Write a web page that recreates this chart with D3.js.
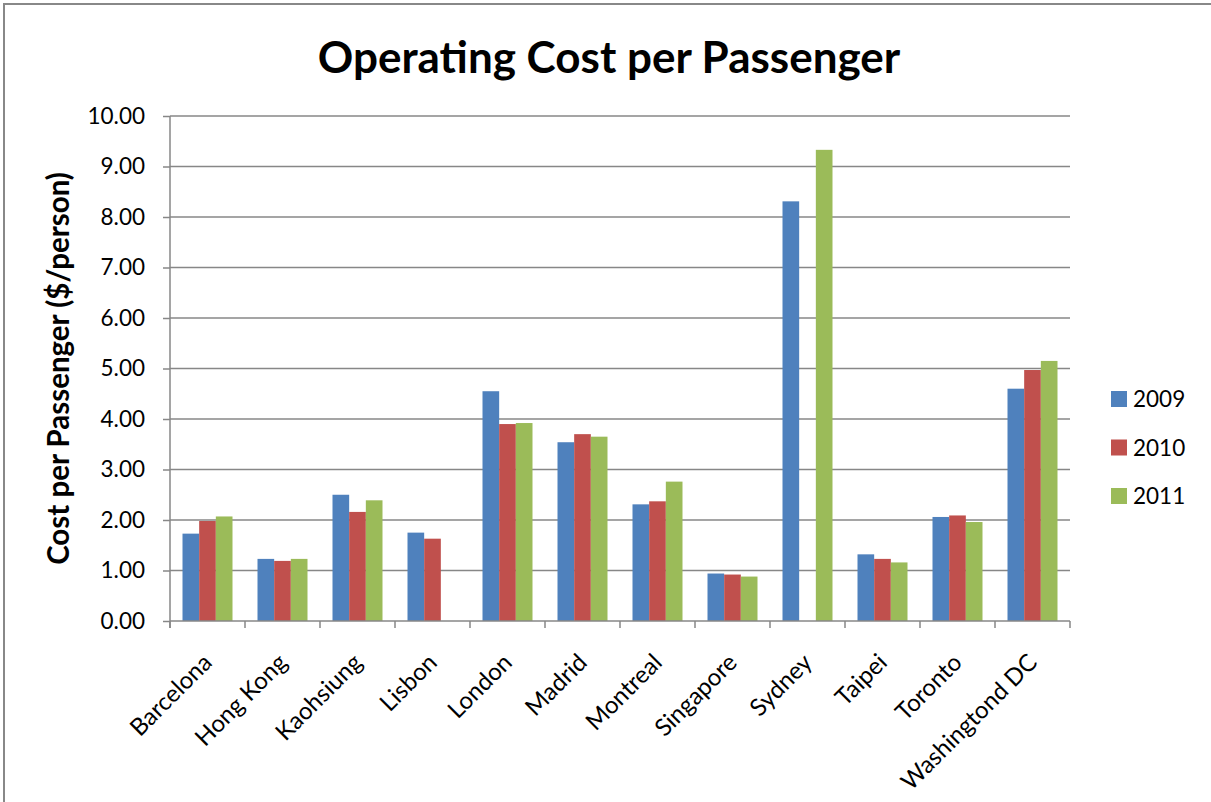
<!DOCTYPE html>
<html>
<head>
<meta charset="utf-8">
<script src="https://cdn.jsdelivr.net/npm/d3@7"></script>
<style>
  html, body { margin: 0; padding: 0; background: #fff; }
  svg { display: block; font-family: Lato, "Open Sans", sans-serif; }
</style>
</head>
<body>
<div id="chart"></div>
<script>
// Données
const cities = ['Barcelona', 'Hong Kong', 'Kaohsiung', 'Lisbon', 'London', 'Madrid',
                'Montreal', 'Singapore', 'Sydney', 'Taipei', 'Toronto', 'Washingtond DC'];
const years = ['2009', '2010', '2011'];
const cost2009 = [1.73, 1.23, 2.50, 1.75, 4.55, 3.54, 2.31, 0.94, 8.31, 1.32, 2.06, 4.60];
const cost2010 = [1.98, 1.19, 2.16, 1.63, 3.90, 3.70, 2.37, 0.92, null, 1.23, 2.09, 4.97];
const cost2011 = [2.07, 1.23, 2.39, null, 3.92, 3.65, 2.76, 0.88, 9.33, 1.16, 1.96, 5.15];
const yTicks = [0, 1, 2, 3, 4, 5, 6, 7, 8, 9, 10];
const colors = ['#4F81BD', '#C0504D', '#9BBB59'];

const width = 1211, height = 802;
const plot = { left: 170, right: 1070, top: 116, bottom: 621 };
const gridColor = '#878787';

const svg = d3.select('#chart').append('svg')
    .attr('width', width)
    .attr('height', height);

// Cadre du graphique
svg.append('rect')
    .attr('x', 4).attr('y', 4)
    .attr('width', 1230).attr('height', 830)
    .attr('fill', 'none')
    .attr('stroke', '#888')
    .attr('stroke-width', 2);

const x = d3.scaleBand()
    .domain(cities)
    .range([plot.left, plot.right]);

const xYear = d3.scaleBand()
    .domain(years)
    .range([0, x.bandwidth()])
    .paddingOuter(0.75);

const y = d3.scaleLinear()
    .domain([0, 10])
    .range([plot.bottom, plot.top]);

// Grille horizontale
svg.append('g')
    .selectAll('line')
    .data(yTicks.slice(1))
    .enter().append('line')
    .attr('x1', plot.left).attr('x2', plot.right)
    .attr('y1', d => y(d)).attr('y2', d => y(d))
    .attr('stroke', gridColor)
    .attr('stroke-width', 1.5);

// Barres
const series = [cost2009, cost2010, cost2011];
const rows = [];
series.forEach((values, s) => {
    values.forEach((v, i) => {
        if (v != null) rows.push({ city: cities[i], year: years[s], value: v, s });
    });
});

svg.append('g')
    .selectAll('rect')
    .data(rows)
    .enter().append('rect')
    .attr('x', d => x(d.city) + xYear(d.year))
    .attr('width', xYear.bandwidth())
    .attr('y', d => y(d.value))
    .attr('height', d => y(0) - y(d.value))
    .attr('fill', d => colors[d.s]);

// Axe Y
const yAxis = svg.append('g')
    .attr('transform', `translate(${plot.left},0)`)
    .call(d3.axisLeft(y).tickValues(yTicks).tickFormat(d3.format('.2f')).tickSize(7).tickPadding(18));
yAxis.select('.domain').remove();
yAxis.append('line')
    .attr('x1', 0).attr('x2', 0)
    .attr('y1', plot.top).attr('y2', plot.bottom + 7)
    .attr('stroke', gridColor).attr('stroke-width', 1.5);
yAxis.selectAll('.tick line').attr('stroke', gridColor).attr('stroke-width', 1.5);
yAxis.selectAll('.tick text')
    .attr('font-size', 22.5)
    .attr('font-family', 'Lato')
    .attr('fill', '#000');

// Axe X
const xAxis = svg.append('g')
    .attr('transform', `translate(0,${plot.bottom})`);
xAxis.append('line')
    .attr('x1', plot.left).attr('x2', plot.right)
    .attr('stroke', gridColor).attr('stroke-width', 1.5);
xAxis.selectAll('.xtick')
    .data(cities.concat(['end']))
    .enter().append('line')
    .attr('class', 'xtick')
    .attr('x1', (d, i) => i < cities.length ? x(d) : plot.right)
    .attr('x2', (d, i) => i < cities.length ? x(d) : plot.right)
    .attr('y1', 0).attr('y2', 7)
    .attr('stroke', gridColor).attr('stroke-width', 1.5);

xAxis.selectAll('.xlabel')
    .data(cities)
    .enter().append('text')
    .attr('class', 'xlabel')
    .attr('transform', d => `translate(${x(d) + x.bandwidth() / 2 + 6},${43}) rotate(-45)`)
    .attr('text-anchor', 'end')
    .attr('font-size', 24)
    .attr('fill', '#000')
    .text(d => d);

// Titres
svg.append('text')
    .attr('x', 609).attr('y', 73)
    .attr('text-anchor', 'middle')
    .attr('font-size', 44)
    .attr('font-weight', 'bold')
    .text('Operating Cost per Passenger');

svg.append('text')
    .attr('transform', `translate(69,${(plot.top + plot.bottom) / 2}) rotate(-90)`)
    .attr('text-anchor', 'middle')
    .attr('font-size', 29.5)
    .attr('font-weight', 'bold')
    .text('Cost per Passenger ($/person)');

// Légende
const legend = svg.append('g')
    .selectAll('g')
    .data(years)
    .enter().append('g')
    .attr('transform', (d, i) => `translate(1111,${391 + i * 48.5})`);

legend.append('rect')
    .attr('width', 16).attr('height', 16)
    .attr('fill', (d, i) => colors[i]);

legend.append('text')
    .attr('x', 22).attr('y', 8)
    .attr('dy', '0.36em')
    .attr('font-size', 22.5)
    .text(d => d);
</script>
</body>
</html>
